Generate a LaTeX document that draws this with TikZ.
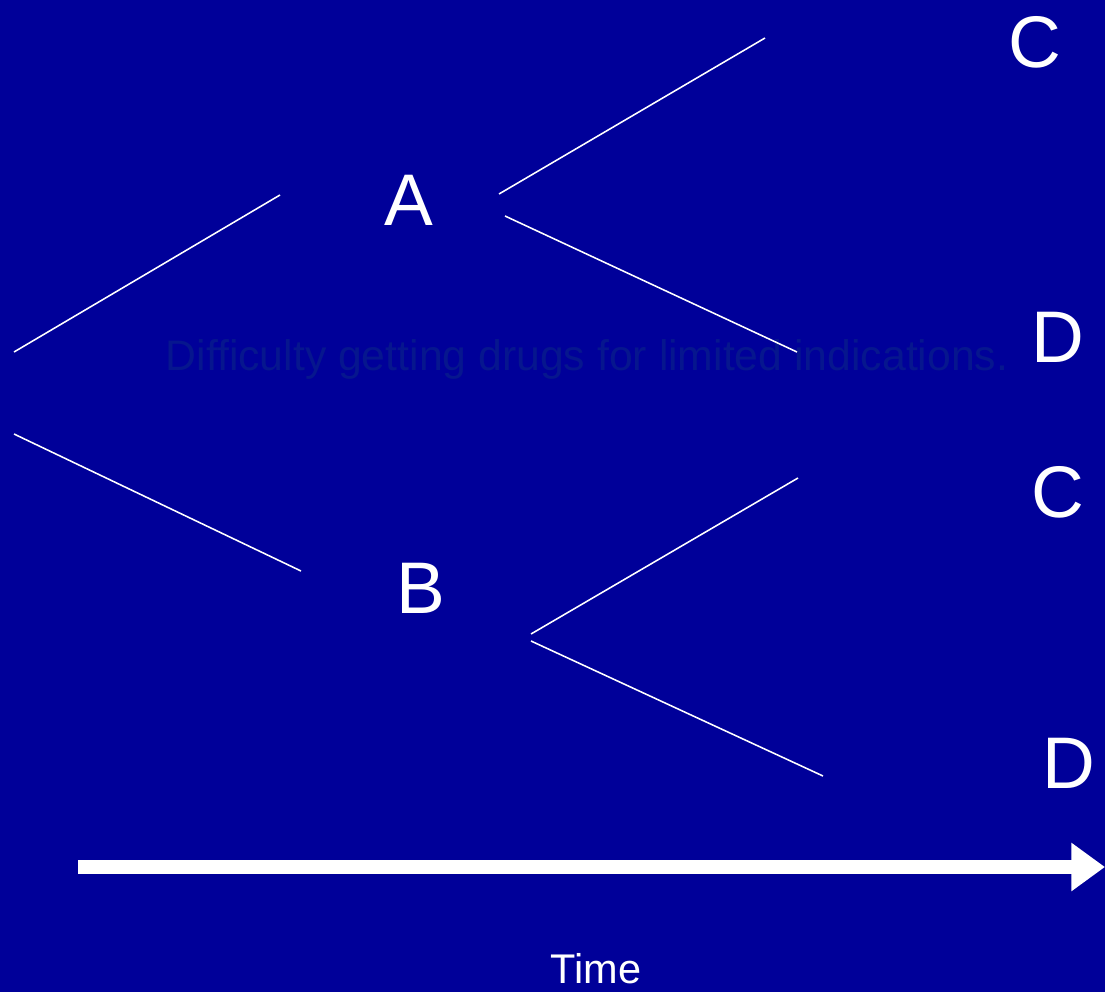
\documentclass[tikz,border=0pt]{standalone}
\usepackage{fontspec}
\setmainfont{Liberation Sans}
\usetikzlibrary{arrows.meta}
\definecolor{slidebg}{RGB}{0,0,153}
\definecolor{ghost}{RGB}{6,22,142}
\begin{document}
\begin{tikzpicture}[x=0.025cm,y=-0.025cm,
outcome/.style={text=white,inner sep=0pt,anchor=base,font=\fontsize{52}{60}\selectfont},
branch/.style={draw=white,line width=1.1pt},
arr/.style={-{Triangle[length=24pt,width=33pt]},line width=10.6pt,white}]
\fill[slidebg](0,0)rectangle(1105,992);
\useasboundingbox(0,0)rectangle(1105,992);
% state labels
\node[outcome](a)at(409,225){A};
\node[outcome](b)at(421,613){B};
\node[outcome](c1)at(1035,68){C};
\node[outcome](d1)at(1058,362){D};
\node[outcome](c2)at(1058,517){C};
\node[outcome](d2)at(1069,788){D};
\node[text=ghost,inner sep=0pt,anchor=base,font=\fontsize{30.4}{36}\selectfont](note)at(587,370){Difficulty getting drugs for limited indications.};
\node[text=white,inner sep=0pt,anchor=base,font=\fontsize{29.5}{34}\selectfont](time)at(596,983){Time};
% branch ends
\coordinate(root1)at(14,352);\coordinate(a0)at(280,195);
\coordinate(root2)at(14,434);\coordinate(b0)at(301,571);
\coordinate(a1)at(499,194);\coordinate(ac)at(765,38);
\coordinate(a2)at(505,216);\coordinate(ad)at(797,352);
\coordinate(b1)at(531,634);\coordinate(bc)at(798,478);
\coordinate(b2)at(531,641);\coordinate(bd)at(823,776);
\draw[branch](root1)--(a0);
\draw[branch](root2)--(b0);
\draw[branch](a1)--(ac);
\draw[branch](a2)--(ad);
\draw[branch](b1)--(bc);
\draw[branch](b2)--(bd);
% time axis
\coordinate(t0)at(78,867);\coordinate(t1)at(1105,867);
\draw[arr](t0)--(t1);
\end{tikzpicture}
\end{document}
